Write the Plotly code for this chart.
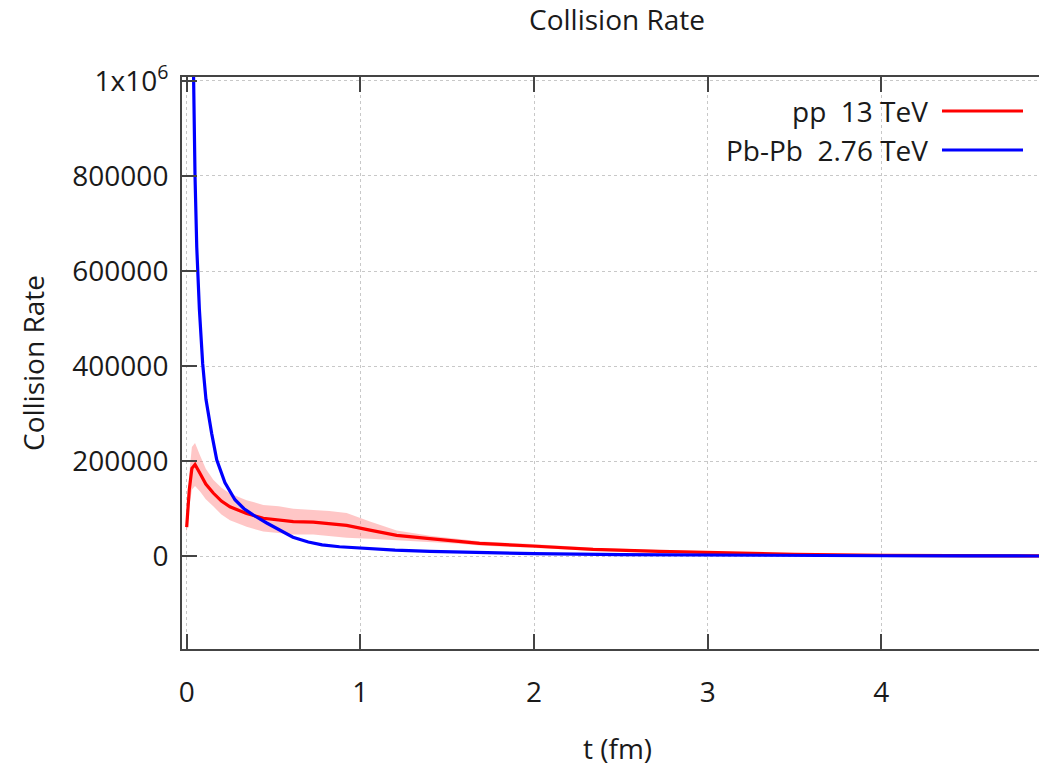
import plotly.graph_objects as go

# ---- data ----
pb_t = [0.030, 0.038, 0.048, 0.058, 0.073, 0.092, 0.111, 0.144, 0.173, 0.220, 0.278,
        0.330, 0.382, 0.461, 0.537, 0.612, 0.700, 0.780, 0.880, 1.00, 1.20, 1.40,
        1.70, 2.00, 2.50, 3.00, 3.50, 4.00, 4.50, 5.00]
pb_rate = [1250000, 1000000, 800000, 650000, 520000, 405000, 330000, 258000, 203000,
           155000, 119000, 100000, 87000, 70000, 55000, 40000, 30000, 24000, 20000,
           17000, 13000, 10500, 7500, 5500, 3500, 2300, 1600, 1100, 800, 600]

pp_t = [0.000, 0.015, 0.030, 0.048, 0.077, 0.110, 0.153, 0.200, 0.249, 0.345, 0.441,
        0.530, 0.614, 0.729, 0.821, 0.921, 1.055, 1.209, 1.400, 1.570, 1.686, 1.990,
        2.340, 2.720, 3.070, 3.500, 4.000, 4.500, 5.000]
pp_rate = [61500, 140000, 185000, 193000, 174000, 152000, 133000, 116000, 104000,
           90000, 80000, 77000, 73000, 72000, 69000, 65000, 55000, 44000, 37000,
           31500, 27000, 21600, 14700, 10500, 7700, 4000, 2000, 1000, 600]
pp_err = [15000, 35000, 45000, 45000, 38000, 32000, 28000, 28000, 28000, 28000, 28000,
          28000, 27000, 26000, 26000, 26000, 18000, 10000, 6000, 5000, 4500, 4000,
          3000, 2500, 2000, 1500, 1200, 1000, 1000]

x_ticks = [0, 1, 2, 3, 4]
y_ticks = [0, 200000, 400000, 600000, 800000, 1000000]
y_ticktext = ["0", "200000", "400000", "600000", "800000", "1x10<sup>6</sup>"]

legend_labels = ["pp  13 TeV", "Pb-Pb  2.76 TeV"]
RED = "#ff0000"
BLUE = "#0000ff"
FONT = "Open Sans"
TXT = "#1a1a1a"
AX = "#444444"

pp_lo = [v - e for v, e in zip(pp_rate, pp_err)]
pp_hi = [v + e for v, e in zip(pp_rate, pp_err)]

fig = go.Figure()
fig.add_trace(go.Scatter(x=pp_t, y=pp_lo, mode="lines", line=dict(width=0),
                         showlegend=False, hoverinfo="skip"))
fig.add_trace(go.Scatter(x=pp_t, y=pp_hi, mode="lines", line=dict(width=0),
                         fill="tonexty", fillcolor="rgba(255,120,120,0.42)",
                         showlegend=False, hoverinfo="skip"))
fig.add_trace(go.Scatter(x=pp_t, y=pp_rate, mode="lines", name=legend_labels[0],
                         line=dict(color=RED, width=3.2), showlegend=False))
fig.add_trace(go.Scatter(x=pb_t, y=pb_rate, mode="lines", name=legend_labels[1],
                         line=dict(color=BLUE, width=3.2), showlegend=False))

# page body has an 8px margin; figure coords = screen coords - 8
OFF = 8
W, H = 1047, 758
L, T = 182 - OFF, 77 - OFF
B = H - (649 - OFF)
R = 0
pw = W - L - R
ph = H - T - B

def sx(px):
    return (px - OFF - L) / pw

def sy(py):
    return (H - B - (py - OFF)) / ph

# manual gnuplot-style legend (text right, line sample to the right)
for label, col, py in [(legend_labels[0], RED, 111), (legend_labels[1], BLUE, 150)]:
    fig.add_annotation(text=label, xref="paper", yref="paper", x=sx(930),
                       y=sy(py), xanchor="right", yanchor="middle",
                       showarrow=False, font=dict(family=FONT, size=28, color=TXT))
    fig.add_shape(type="line", xref="paper", yref="paper",
                  x0=sx(942), x1=sx(1023), y0=sy(py), y1=sy(py),
                  line=dict(color=col, width=3))

# axis titles
fig.add_annotation(text="t (fm)", xref="paper", yref="paper", x=sx(617), y=sy(748),
                   xanchor="center", yanchor="middle", showarrow=False,
                   font=dict(family=FONT, size=28, color=TXT))
fig.add_annotation(text="Collision Rate", xref="paper", yref="paper", x=sx(33),
                   y=sy(363), xanchor="center", yanchor="middle", textangle=-90,
                   showarrow=False, font=dict(family=FONT, size=28, color=TXT))

fig.update_layout(
    width=W, height=H,
    margin=dict(l=L, r=R, t=T, b=B),
    paper_bgcolor="white", plot_bgcolor="white",
    showlegend=False,
    title=dict(text="Collision Rate", x=sx(617), xref="paper", xanchor="center",
               y=1 - (20 - OFF) / H, yanchor="middle",
               font=dict(family=FONT, size=28, color=TXT)),
    font=dict(family=FONT, size=28, color=TXT),
)
fig.update_xaxes(range=[-0.027, 5.0], tickvals=x_ticks, ticks="inside", ticklen=15,
                 tickwidth=2, tickcolor=AX, showline=True, linecolor=AX, linewidth=2,
                 mirror="ticks", showgrid=True, gridcolor="#c8c8c8", griddash="dot",
                 gridwidth=1, zeroline=False, ticklabelstandoff=17,
                 tickfont=dict(family=FONT, size=28, color=TXT))
fig.update_yaxes(range=[-195000, 1008000], tickvals=y_ticks, ticktext=y_ticktext,
                 ticks="inside", ticklen=15, tickwidth=2, tickcolor=AX,
                 showline=True, linecolor=AX, linewidth=2, mirror=False,
                 showgrid=True, gridcolor="#c8c8c8", griddash="dot", gridwidth=1,
                 zeroline=False, ticklabelstandoff=6,
                 tickfont=dict(family=FONT, size=28, color=TXT))

fig.write_html("out.html")
